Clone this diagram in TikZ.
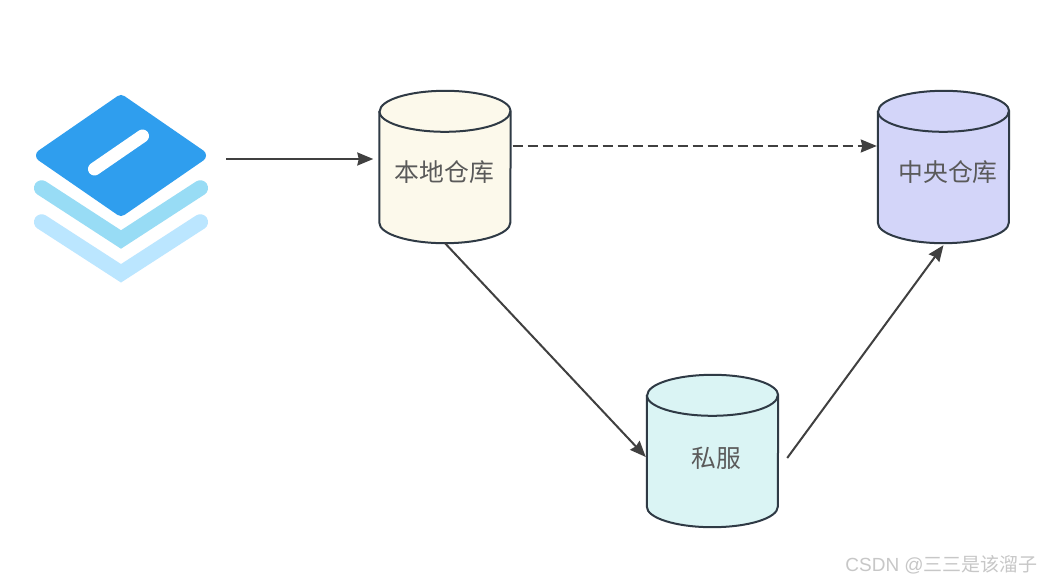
\documentclass[tikz,border=0pt]{standalone}
\usepackage{fontspec}
\setmainfont{Liberation Sans}
\newfontfamily\cjk{Noto Sans CJK SC}
\usetikzlibrary{arrows.meta,calc}
\definecolor{cylline}{HTML}{2F3A45}
\definecolor{linkc}{HTML}{404040}
\definecolor{labelc}{HTML}{5A5A5A}
\definecolor{localfill}{HTML}{FCF9EB}
\definecolor{privfill}{HTML}{DAF4F4}
\definecolor{centralfill}{HTML}{D3D5F9}
\definecolor{iconA}{HTML}{2F9EEE}
\definecolor{iconB}{HTML}{98DCF5}
\definecolor{iconC}{HTML}{BBE6FF}
\tikzset{
  cylbox/.style={inner sep=0pt,minimum width=131pt,minimum height=152pt},
  cylshape/.style={draw=cylline,line width=2pt,line join=round},
  cyllabel/.style={text=labelc,font=\cjk\fontsize{24.8}{25}\selectfont,inner sep=0pt},
  link/.style={draw=linkc,line width=2pt,-{Stealth[length=16pt,width=13pt,inset=1.5pt]}},
  chevron/.style={line width=15.5pt,line cap=round,line join=miter},
  mark label/.style={text=black!22,font=\fontsize{19}{19}\selectfont,inner sep=0pt}
}
% #1 name, #2 centre, #3 fill
\newcommand{\drawdrum}[3]{%
  \node[cylbox] (#1) at (#2) {};
  \path[cylshape,fill=#3]
    ($(#1.north west)+(0,20.5)$) -- ($(#1.south west)+(0,-20.5)$)
    arc[start angle=180,end angle=360,x radius=65.5,y radius=-20.5]
    -- ($(#1.north east)+(0,20.5)$)
    arc[start angle=0,end angle=180,x radius=65.5,y radius=-20.5] -- cycle;
  \path[cylshape]
    ($(#1.north west)+(0,20.5)$)
    arc[start angle=180,end angle=0,x radius=65.5,y radius=20.5];
}
\begin{document}
\begin{tikzpicture}[x=1pt,y=-1pt]
\useasboundingbox[fill=white] (0,0) rectangle (1042,583);

% icon
\node[inner sep=0pt,minimum width=172pt,minimum height=190pt] (icon) at (121,189) {};
\draw[iconC,chevron] (41.7,222) -- (121,273.3) -- (200.3,222);
\draw[iconB,chevron] (41.7,188) -- (121,239.5) -- (200.3,188);
\fill[iconA,draw=iconA,line width=12pt,line join=round] (121,101) -- (200,155.5) -- (121,210) -- (42,155.5) -- cycle;
\draw[white,line width=13pt,line cap=round] (94.5,169) -- (142.5,136);

% drums
\drawdrum{local}{445,167}{localfill}
\drawdrum{central}{943.5,167}{centralfill}
\drawdrum{priv}{712.5,451}{privfill}
\node[cyllabel] (localtext) at (444.5,172) {本地仓库};
\node[cyllabel] (centraltext) at (948,172) {中央仓库};
\node[cyllabel] (privtext) at (716,458) {私服};

% connectors
\draw[link] ($(icon.east)+(19,-30)$) -- ($(local.west)+(-6,-8)$);
\draw[link,dash pattern=on 10.5pt off 4.5pt] ($(local.east)+(2,-21)$) -- ($(central.west)+(-1,-21)$);
\draw[link] (local.south) -- ($(priv.west)+(-1,6)$);
\draw[link] ($(priv.east)+(9,7)$) -- ($(central.south)+(0,2)$);

\node[mark label,anchor=east] (mark) at (1038,565) {CSDN @{\cjk 三三是该溜子}};
\end{tikzpicture}
\end{document}
